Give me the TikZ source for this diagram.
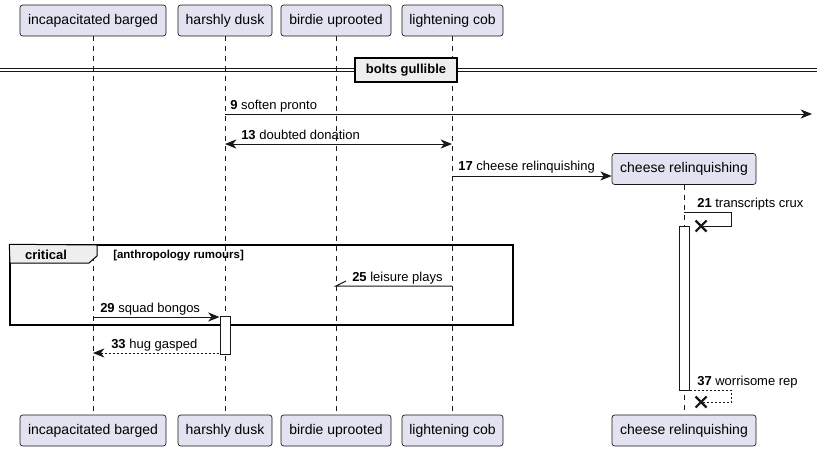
\documentclass[tikz,border=0pt]{standalone}
\usepackage{fontspec}
\setmainfont{Liberation Sans}
\usetikzlibrary{arrows.meta}
\definecolor{pfill}{HTML}{E2E2F0}
\definecolor{pborder}{HTML}{181818}
\definecolor{gfill}{HTML}{EEEEEE}
\begin{document}
\begin{tikzpicture}[x=0.75pt,y=-0.75pt,
  part/.style={draw=pborder, fill=pfill, rounded corners=2pt, line width=0.5pt, minimum height=31*0.75pt, inner sep=0pt, font=\fontsize{10.5}{12}\selectfont},
  life/.style={draw=pborder, line width=0.5pt, dash pattern=on 3.75pt off 3.75pt},
  msgline/.style={draw=pborder, line width=0.75pt},
  dmsg/.style={draw=pborder, line width=0.75pt, dash pattern=on 1.5pt off 1.5pt},
  arr/.style={-{Stealth[length=8.5pt,width=6.8pt,inset=2.5pt]}},
  larr/.style={{Stealth[length=8.5pt,width=6.8pt,inset=2.5pt]}-},
  barr/.style={{Stealth[length=8.5pt,width=6.8pt,inset=2.5pt]}-{Stealth[length=8.5pt,width=6.8pt,inset=2.5pt]}},
  lbl/.style={anchor=base west, inner sep=0pt, font=\fontsize{9.75}{11}\selectfont},
  act/.style={draw=pborder, fill=white, line width=0.75pt, minimum width=10*0.75pt, inner sep=0pt},
  xmark/.style={draw=pborder, line width=1.6pt},
]
\useasboundingbox[fill=white] (0,0) rectangle (817,450);

% participants top
\node[part, minimum width=146*0.75pt] (pA) at (93,20.5) {incapacitated barged};
\node[part, minimum width=94*0.75pt] (pB) at (225,20.5) {harshly dusk};
\node[part, minimum width=110*0.75pt] (pC) at (336,20.5) {birdie uprooted};
\node[part, minimum width=101*0.75pt] (pD) at (452.5,20.5) {lightening cob};
% participants bottom
\node[part, minimum width=146*0.75pt] (pAb) at (93,430.5) {incapacitated barged};
\node[part, minimum width=94*0.75pt] (pBb) at (225,430.5) {harshly dusk};
\node[part, minimum width=110*0.75pt] (pCb) at (336,430.5) {birdie uprooted};
\node[part, minimum width=101*0.75pt] (pDb) at (452.5,430.5) {lightening cob};
\node[part, minimum width=144*0.75pt] (pEb) at (684,430.5) {cheese relinquishing};
\node[part, minimum width=144*0.75pt] (pE) at (684,169) {cheese relinquishing};

% lifelines
\draw[life] (pA.south) -- (pAb.north);
\draw[life] (pB.south) -- (pBb.north);
\draw[life] (pC.south) -- (pCb.north);
\draw[life] (pD.south) -- (pDb.north);
\draw[life] (pE.south) -- (pEb.north);

% divider
\draw[pborder, line width=0.75pt] (0,68) -- (817,68) (0,71.5) -- (817,71.5);
\node[draw=black, fill=gfill, line width=1.1pt, minimum width=102*0.75pt, minimum height=24*0.75pt, inner sep=0pt, font=\bfseries\fontsize{9.75}{11}\selectfont] (div) at (406,70) {bolts gullible};

% msg 9
\coordinate (m9a) at (225,114);
\coordinate (m9b) at (812,114);
\draw[msgline, arr] (m9a) -- (m9b);
\node[lbl] (l9) at (230,109) {\textbf{9} soften pronto};

% msg 13
\coordinate (m13a) at (225,144);
\coordinate (m13b) at (452,144);
\draw[msgline, barr] (m13a) -- (m13b);
\node[lbl] (l13) at (241,139) {\textbf{13} doubted donation};

% msg 17
\coordinate (m17a) at (452,176);
\draw[msgline, arr] (m17a) -- (pE.west |- m17a);
\node[lbl] (l17) at (458,170) {\textbf{17} cheese relinquishing};

% activation cheese
\node[act, minimum height=164*0.75pt] (actE) at (684,308) {};

% msg 21 self destroy
\coordinate (m21a) at (684,212);
\coordinate (m21b) at (701,226);
\draw[msgline] (m21a) -- (731,212) -- (731,226) -- (m21b);
\draw[xmark] (695.5,220.5) -- (706.5,231.5) (695.5,231.5) -- (706.5,220.5);
\node[lbl] (l21) at (697,207) {\textbf{21} transcripts crux};

% critical group
\node[draw=black, line width=1.1pt, minimum width=503*0.75pt, minimum height=80*0.75pt, inner sep=0pt] (grp) at (261.5,285) {};
\draw[black, line width=0.75pt, fill=gfill] (grp.north west) -- (97,245) -- (97,256) -- (89,263) -- (10,263) -- cycle;
\draw[black, line width=1.1pt] (grp.north west) rectangle (grp.south east);
\node[anchor=base, inner sep=0pt, font=\bfseries\fontsize{9.75}{11}\selectfont] (gl) at (46,259) {critical};
\node[anchor=base west, inner sep=0pt, font=\bfseries\fontsize{8.6}{10}\selectfont] (gc) at (113,258) {[anthropology rumours]};

% msg 25
\coordinate (m25a) at (452,286);
\coordinate (m25b) at (336,286);
\draw[msgline] (m25a) -- (m25b) -- ++(10,-5);
\node[lbl] (l25) at (352,281) {\textbf{25} leisure plays};

% activation harshly
\node[act, minimum height=38*0.75pt] (actB) at (225,335) {};

% msg 29
\coordinate (m29a) at (93,317);
\draw[msgline, arr] (m29a) -- (actB.west |- m29a);
\node[lbl] (l29) at (100,312) {\textbf{29} squad bongos};

% msg 33
\coordinate (m33b) at (93,353);
\draw[dmsg, larr] (m33b) -- (actB.west |- m33b);
\node[lbl] (l33) at (111,348) {\textbf{33} hug gasped};

% msg 37
\coordinate (m37a) at (actE.east |- 0,390);
\coordinate (m37b) at (701,402);
\draw[dmsg] (m37a) -- (731,390) -- (731,402) -- (m37b);
\draw[xmark] (695.5,396.5) -- (706.5,407.5) (695.5,407.5) -- (706.5,396.5);
\node[lbl] (l37) at (697,385) {\textbf{37} worrisome rep};
\end{tikzpicture}
\end{document}
